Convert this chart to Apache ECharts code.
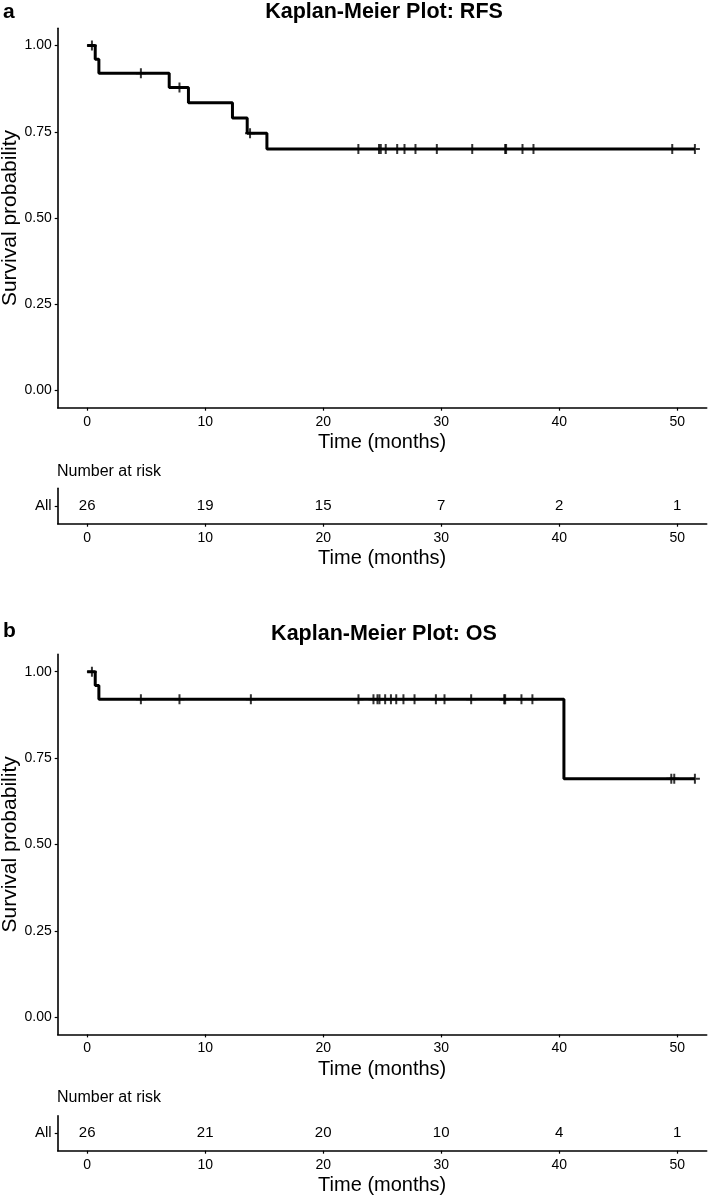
<!DOCTYPE html>
<html>
<head>
<meta charset="utf-8">
<script src="https://cdn.jsdelivr.net/npm/echarts@6/dist/echarts.min.js"></script>
<style>
html,body{margin:0;padding:0;background:#fff;}
#chart{width:709px;height:1195px;}
</style>
</head>
<body>
<div id="chart"></div>
<script>
// ---- data ----
var xTicks = [0, 10, 20, 30, 40, 50];
var yTicks = [0, 0.25, 0.5, 0.75, 1];
var riskTimes = [0, 10, 20, 30, 40, 50];

// RFS: step points [time, survival]
var rfsStepTime = [0, 0.68, 0.99, 6.95, 8.58, 12.31, 13.56, 15.23, 51.5];
var rfsStepProb = [1.00, 0.96, 0.92, 0.878, 0.834, 0.790, 0.746, 0.700, 0.700];
var rfsCensorTime = [0.4, 4.55, 7.82, 13.8, 22.98, 24.73, 24.88, 25.3, 26.27, 26.89, 27.82, 29.63, 32.63, 35.42, 35.5, 36.89, 37.82, 49.58, 51.5];
var rfsCensorProb = [1.00, 0.92, 0.878, 0.746, 0.70, 0.70, 0.70, 0.70, 0.70, 0.70, 0.70, 0.70, 0.70, 0.70, 0.70, 0.70, 0.70, 0.70, 0.70];
var rfsRisk = [26, 19, 15, 7, 2, 1];

// OS
var osStepTime = [0, 0.68, 0.99, 40.4, 51.5];
var osStepProb = [1.00, 0.96, 0.92, 0.69, 0.69];
var osCensorTime = [0.4, 4.55, 7.82, 13.87, 22.99, 24.26, 24.6, 24.77, 25.25, 25.74, 26.19, 26.8, 27.74, 29.55, 30.28, 32.54, 35.34, 35.42, 36.8, 37.73, 49.5, 49.75, 51.5];
var osCensorProb = [1.00, 0.92, 0.92, 0.92, 0.92, 0.92, 0.92, 0.92, 0.92, 0.92, 0.92, 0.92, 0.92, 0.92, 0.92, 0.92, 0.92, 0.92, 0.92, 0.92, 0.69, 0.69, 0.69];
var osRisk = [26, 21, 20, 10, 4, 1];

// ---- build ----
function zip(a, b) { return a.map(function (v, i) { return [v, b[i]]; }); }
var FONT = 'Liberation Sans, Arial, Helvetica, sans-serif';
var PLUS = 'path://M4,0 L6,0 L6,4 L10,4 L10,6 L6,6 L6,10 L4,10 L4,6 L0,6 L0,4 L4,4 Z';
var axisLineStyle = { color: '#000', width: 1.6 };

function xAxisDef(gi, gap) {
  return {
    type: 'value', gridIndex: gi, min: -2.5, max: 52.5,
    name: 'Time (months)', nameLocation: 'middle', nameGap: gap, nameMoveOverlap: false,
    nameTextStyle: { fontFamily: FONT, fontSize: 20, color: '#000' },
    axisLine: { show: true, onZero: false, lineStyle: axisLineStyle },
    axisTick: { show: true, length: 3, customValues: xTicks, lineStyle: { color: '#000', width: 1.2 } },
    axisLabel: { customValues: xTicks, fontFamily: FONT, fontSize: 14, color: '#000', margin: 7 },
    splitLine: { show: false }
  };
}
function yAxisDef(gi) {
  return {
    type: 'value', gridIndex: gi, min: -0.05, max: 1.05,
    name: 'Survival probability', nameLocation: 'middle', nameGap: 37, nameMoveOverlap: false,
    nameTextStyle: { fontFamily: FONT, fontSize: 21, color: '#000' },
    axisLine: { show: true, onZero: false, lineStyle: axisLineStyle },
    axisTick: { show: true, length: 3, customValues: yTicks, lineStyle: { color: '#000', width: 1.2 } },
    axisLabel: { customValues: yTicks, fontFamily: FONT, fontSize: 14, color: '#000', margin: 6,
      formatter: function (v) { return v.toFixed(2); } },
    splitLine: { show: false }
  };
}
function riskYAxis(gi) {
  return {
    type: 'category', gridIndex: gi, data: ['All'],
    axisLine: { show: true, onZero: false, lineStyle: axisLineStyle },
    axisTick: { show: true, length: 3, alignWithLabel: true, lineStyle: { color: '#000', width: 1.2 } },
    axisLabel: { fontFamily: FONT, fontSize: 15, color: '#000', margin: 6 },
    splitLine: { show: false }
  };
}
function kmSeries(gi, st, sp, ct, cp) {
  return [{
    type: 'line', xAxisIndex: gi, yAxisIndex: gi, step: 'end', showSymbol: false,
    lineStyle: { color: '#000', width: 3 }, data: zip(st, sp), z: 3
  }, {
    type: 'scatter', xAxisIndex: gi, yAxisIndex: gi, symbol: PLUS, symbolSize: 10,
    itemStyle: { color: '#000' }, data: zip(ct, cp), z: 4
  }];
}
function riskSeries(gi, counts) {
  return {
    type: 'scatter', xAxisIndex: gi, yAxisIndex: gi, symbolSize: 0,
    itemStyle: { color: '#000', opacity: 0 },
    label: { show: true, position: 'inside', fontFamily: FONT, fontSize: 15, color: '#000',
      textBorderWidth: 0, opacity: 1,
      formatter: function (p) { return p.value[2]; } },
    data: riskTimes.map(function (t, i) { return [t, 'All', counts[i]]; })
  };
}
function gridDef(top, height) {
  return { left: 57.7, top: top, width: 649, height: height, containLabel: false, outerBoundsMode: 'none' };
}

var chart = echarts.init(document.getElementById('chart'), null, { renderer: 'canvas' });
var option = {
  animation: false,
  backgroundColor: '#fff',
  grid: [gridDef(28.3, 379.4), gridDef(488.3, 35.4), gridDef(654.4, 380), gridDef(1115.7, 35)],
  xAxis: [xAxisDef(0, 25), xAxisDef(1, 25), xAxisDef(2, 25), xAxisDef(3, 25)],
  yAxis: [yAxisDef(0), riskYAxis(1), yAxisDef(2), riskYAxis(3)],
  series: [].concat(
    kmSeries(0, rfsStepTime, rfsStepProb, rfsCensorTime, rfsCensorProb),
    [riskSeries(1, rfsRisk)],
    kmSeries(2, osStepTime, osStepProb, osCensorTime, osCensorProb),
    [riskSeries(3, osRisk)]
  ),
  graphic: [
    { type: 'text', x: 3, y: 12, style: { text: 'a', font: 'bold 21px ' + FONT, fill: '#000', verticalAlign: 'middle' } },
    { type: 'text', x: 384, y: 12, style: { text: 'Kaplan-Meier Plot: RFS', font: 'bold 21.5px ' + FONT, fill: '#000', align: 'center', verticalAlign: 'middle' } },
    { type: 'text', x: 57, y: 472, style: { text: 'Number at risk', font: '16px ' + FONT, fill: '#000', verticalAlign: 'middle' } },
    { type: 'text', x: 3, y: 631, style: { text: 'b', font: 'bold 21px ' + FONT, fill: '#000', verticalAlign: 'middle' } },
    { type: 'text', x: 384, y: 634, style: { text: 'Kaplan-Meier Plot: OS', font: 'bold 21.5px ' + FONT, fill: '#000', align: 'center', verticalAlign: 'middle' } },
    { type: 'text', x: 57, y: 1098, style: { text: 'Number at risk', font: '16px ' + FONT, fill: '#000', verticalAlign: 'middle' } }
  ]
};
chart.setOption(option);
</script>
</body>
</html>
